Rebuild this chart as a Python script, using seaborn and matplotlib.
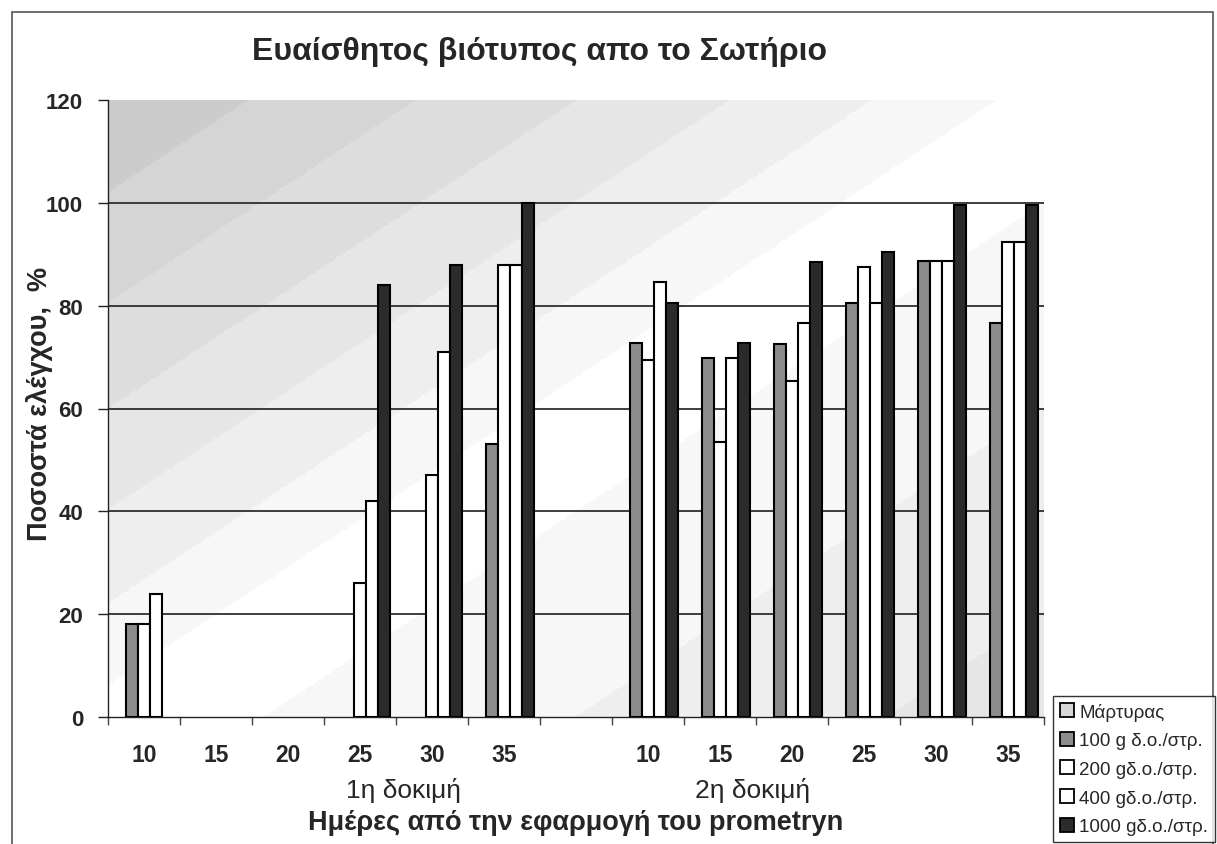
import numpy as np
import pandas as pd
import matplotlib
matplotlib.use("Agg")
import matplotlib.pyplot as plt
from matplotlib.patches import Rectangle
from matplotlib.transforms import blended_transform_factory
import seaborn as sns

# ---- data -------------------------------------------------------------
days = [10, 15, 20, 25, 30, 35]
trials = ["1η δοκιμή", "2η δοκιμή"]
series = ["Μάρτυρας", "100 g δ.ο./στρ.", "200 gδ.ο./στρ.", "400 gδ.ο./στρ.", "1000 gδ.ο./στρ."]

# 1st trial
t1_control = [0, 0, 0, 0, 0, 0]
t1_g100 = [18, 0, 0, 0, 0, 53]
t1_g200 = [18, 0, 0, 26, 47, 88]
t1_g400 = [24, 0, 0, 42, 71, 88]
t1_g1000 = [0, 0, 0, 84, 88, 100]

# 2nd trial
t2_control = [0, 0, 0, 0, 0, 0]
t2_g100 = [72.7, 69.8, 72.5, 80.5, 88.7, 76.6]
t2_g200 = [69.5, 53.5, 65.4, 87.5, 88.7, 92.4]
t2_g400 = [84.6, 69.8, 76.6, 80.5, 88.7, 92.4]
t2_g1000 = [80.6, 72.7, 88.5, 90.5, 99.5, 99.5]

title = "Ευαίσθητος βιότυπος απο το Σωτήριο"
ylabel = "Ποσοστά ελέγχου,  %"
xlabel = "Ημέρες από την εφαρμογή του prometryn"
yticks = [0, 20, 40, 60, 80, 100, 120]

# ---- long table: one slot per (trial, day) plus an empty spacer slot ----
trial_values = [
    [t1_control, t1_g100, t1_g200, t1_g400, t1_g1000],
    [t2_control, t2_g100, t2_g200, t2_g400, t2_g1000],
]
rows = []
slot_order = []
slot_labels = []
for ti, vals in enumerate(trial_values):
    if ti > 0:
        slot_order.append("gap")
        slot_labels.append("")
    for di, d in enumerate(days):
        key = f"t{ti + 1}-{d}"
        slot_order.append(key)
        slot_labels.append(str(d))
        for si, s in enumerate(series):
            rows.append({"slot": key, "series": s, "value": vals[si][di]})
df = pd.DataFrame(rows)

# ---- styling ------------------------------------------------------------
sns.set_theme(style="white")
plt.rcParams["font.family"] = ["Liberation Sans", "DejaVu Sans"]

W, H = 1217, 845
fig = plt.figure(figsize=(W / 100, H / 100), dpi=100)
ax = fig.add_axes([108 / W, 1 - 718 / H, (1044 - 108) / W, (718 - 101) / H])

# diagonal shaded plot-area background
u = np.linspace(0, 1, 500)
v = np.linspace(0, 1, 400)
U, V = np.meshgrid(u, v)
d = V - U
shade = np.where(d > 0, 1 - 0.21 * np.abs(d) ** 0.85, 1 - 0.10 * np.abs(d))
shade = np.round(shade * 30) / 30
ax.imshow(shade, cmap="gray", vmin=0, vmax=1, extent=(0, 1, 0, 1),
          transform=ax.transAxes, origin="lower", aspect="auto",
          interpolation="nearest", zorder=0)

palette = {
    series[0]: "#d6d6d6",
    series[1]: "#8c8c8c",
    series[2]: "#ffffff",
    series[3]: "#ffffff",
    series[4]: "#2b2b2b",
}

sns.barplot(data=df, x="slot", y="value", hue="series", order=slot_order,
            hue_order=series, palette=palette, width=0.82, dodge=True,
            edgecolor="black", linewidth=1.5, saturation=1, errorbar=None,
            legend=True, ax=ax, zorder=3)

# empty bars leave no outline on the baseline
for bar in ax.patches:
    if bar.get_height() == 0:
        bar.set_linewidth(0)

# horizontal gridlines
for yv in yticks[1:-1]:
    ax.axhline(yv, color="#2e2e2e", lw=1.3, zorder=1)

ax.set_xlim(-0.5, len(slot_order) - 0.5)
ax.set_ylim(0, 120)
ax.set_yticks(yticks)
ax.set_yticklabels([str(t) for t in yticks], fontsize=16, fontweight="bold")
ax.set_xticks(range(len(slot_order)))
ax.set_xticklabels(slot_labels, fontsize=16.5, fontweight="bold")
ax.set_xticks(np.arange(-0.5, len(slot_order), 1.0), minor=True)
ax.tick_params(axis="x", which="major", length=0, pad=19)
ax.tick_params(axis="x", which="minor", length=6, width=1, color="#444",
               direction="out", bottom=True)
ax.tick_params(axis="y", which="major", length=7, width=1, color="#222",
               direction="out", left=True, pad=11)
ax.set_xlabel("")
ax.set_ylabel("")
for side in ["top", "right"]:
    ax.spines[side].set_visible(False)
ax.spines["left"].set_color("#222")
ax.spines["bottom"].set_color("#222")
ax.spines["left"].set_linewidth(1)
ax.spines["bottom"].set_linewidth(1)

# trial group labels under the day ticks
btf = blended_transform_factory(ax.transData, ax.transAxes)
ax.text(3.6, -0.118, trials[0], transform=btf, ha="center", va="center", fontsize=19)
ax.text(8.45, -0.118, trials[1], transform=btf, ha="center", va="center", fontsize=19)

# titles
fig.text(540 / W, 1 - 52 / H, title, ha="center", va="center",
         fontsize=23, fontweight="bold")
fig.text(576 / W, 1 - 823 / H, xlabel, ha="center", va="center",
         fontsize=19.5, fontweight="bold")
fig.text(40 / W, 1 - 404 / H, ylabel, ha="center", va="center",
         rotation=90, fontsize=19.5, fontweight="bold")

# legend outside the plot, bottom right
handles, labels = ax.get_legend_handles_labels()
ax.get_legend().remove()
leg = fig.legend(handles, labels, loc="upper left",
                 bbox_to_anchor=(1053 / W, 1 - 697 / H),
                 bbox_transform=fig.transFigure, fontsize=13.5,
                 frameon=True, fancybox=False, edgecolor="black",
                 handlelength=0.75, handleheight=0.75, handletextpad=0.3,
                 labelspacing=0.6, borderpad=0.35, borderaxespad=0)
leg.get_frame().set_linewidth(1)
for p, s in zip(leg.get_patches(), series):
    p.set_facecolor(palette[s])
    p.set_edgecolor("black")
    p.set_linewidth(1.3)

# outer frame of the chart
fig.patches.append(Rectangle((12 / W, -0.02), (1213 - 12) / W, 1 - 13 / H + 0.02,
                             transform=fig.transFigure, fill=False,
                             edgecolor="#555555", lw=1.2))

fig.savefig("out.png", dpi=100)
